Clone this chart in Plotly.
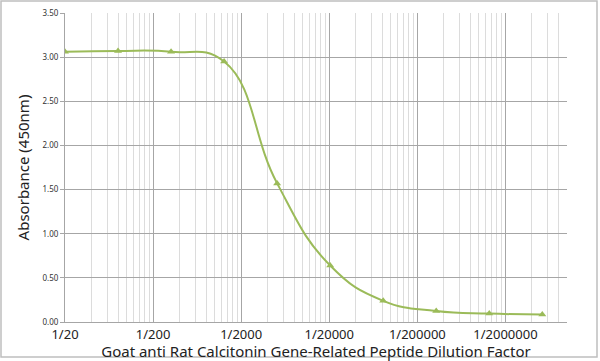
import math
import plotly.graph_objects as go

dilutions = [20, 80, 320, 1280, 5120, 20480, 81920, 327680, 1310720, 5242880]
absorbance = [3.06, 3.07, 3.06, 2.95, 1.57, 0.64, 0.24, 0.125, 0.095, 0.085]
x_tick_vals = [20, 200, 2000, 20000, 200000, 2000000]
x_tick_text = ["1/20", "1/200", "1/2000", "1/20000", "1/200000", "1/2000000"]
y_tick_vals = [0, 0.5, 1.0, 1.5, 2.0, 2.5, 3.0, 3.5]
x_min, x_max = 20, 10000000

minor_vals = []
for base in x_tick_vals:
    for k in range(2, 10):
        v = base * k
        if v <= x_max:
            minor_vals.append(v)

FONT = "Noto Sans"
GREEN = "#9BBB59"

fig = go.Figure()
fig.add_trace(go.Scatter(
    x=dilutions, y=absorbance, mode="lines+markers",
    line=dict(color=GREEN, width=2, shape="spline", smoothing=1.3),
    marker=dict(symbol="triangle-up", size=7, color=GREEN),
    showlegend=False, hoverinfo="skip",
))

fig.update_layout(
    width=600, height=361,
    margin=dict(l=65, r=33, t=13, b=39, autoexpand=False),
    paper_bgcolor="white", plot_bgcolor="white",
    font=dict(family=FONT, color="#222"),
    xaxis=dict(
        type="log", range=[math.log10(x_min), math.log10(x_max)],
        tickmode="array", tickvals=x_tick_vals, ticktext=x_tick_text,
        tickfont=dict(size=13, color="#222"),
        showgrid=True, gridcolor="#A6A6A6", gridwidth=1,
        minor=dict(tickmode="array", tickvals=minor_vals, showgrid=True,
                   gridcolor="#DCDCDC", gridwidth=1),
        showline=True, linecolor="#A6A6A6", linewidth=1,
        ticks="", zeroline=False, automargin=False,
        title=dict(text="Goat anti Rat Calcitonin Gene-Related Peptide Dilution Factor",
                   font=dict(size=15, color="#222"), standoff=1),
    ),
    yaxis=dict(
        range=[0, 3.5], tickmode="array", tickvals=y_tick_vals,
        tickformat=".2f", tickfont=dict(size=8, color="#333"),
        showgrid=True, gridcolor="#A6A6A6", gridwidth=1,
        ticks="outside", ticklen=4, tickcolor="#A6A6A6",
        showline=True, linecolor="#A6A6A6", linewidth=1, zeroline=False,
        automargin=False,
        title=dict(text="Absorbance (450nm)", font=dict(size=15, color="#222"), standoff=9),
    ),
    shapes=[dict(type="rect", xref="paper", yref="paper",
                 x0=(1 - 65) / 502, x1=(597 - 65) / 502,
                 y0=(322 - 357) / 309, y1=(322 - 1) / 309,
                 line=dict(color="#BFBFBF", width=1.5), layer="below")],
)

fig.write_html("out.html", config={"displayModeBar": False, "staticPlot": True},
               post_script="document.body.style.margin='0';document.body.style.padding='0';")
